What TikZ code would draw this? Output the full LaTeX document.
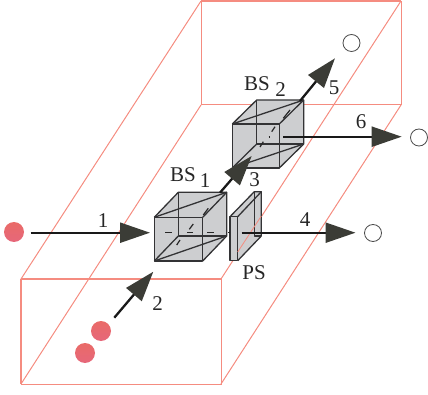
\documentclass[tikz,border=0pt]{standalone}
\usepackage{fontspec}
\setmainfont{Liberation Serif}
\usetikzlibrary{arrows.meta,shadings}
\definecolor{framered}{HTML}{F58C80}
\definecolor{cubegray}{HTML}{CDCED0}
\definecolor{edgegray}{HTML}{333335}
\definecolor{headgray}{HTML}{3B3C36}
\definecolor{ballred}{HTML}{E6677A}
\tikzset{
  frame/.style={draw=framered,line width=1pt},
  frameheavy/.style={draw=framered,line width=1.7pt},
  cubeedge/.style={draw=edgegray,line width=1.3pt,line join=round},
  beam/.style={draw=black!90,line width=2.3pt,-{Triangle[length=30pt,width=20pt,color=headgray]}},
  beamdash/.style={draw=black!85,line width=1.2pt},
  lab/.style={inner sep=0pt,text=black!85,font=\fontsize{21}{21}\selectfont},
  ball/.style={circle,minimum size=20pt,inner sep=0pt,draw=none,top color=ballred!85!orange,bottom color=ballred},
  det/.style={circle,minimum size=17pt,inner sep=0pt,draw=black!70,line width=0.8pt,fill=white}
}
% #1 left, #2 right, #3 top, #4 bottom of front face; #5 #6 offset of the back face
\newcommand{\splitcube}[6]{%
  \fill[cubegray] (#1,#3) -- ++(#5,#6) -- ++(#2-#1,0) -- ++(0,#4-#3) -- (#2,#4) -- (#1,#4) -- cycle;
  \draw[cubeedge] (#1+#5,#3+#6) -- (#1+#5,#4+#6) -- (#2+#5,#4+#6);
  \draw[cubeedge] (#1,#4) -- (#1+#5,#4+#6);
  \draw[cubeedge] (#1,#3) -- (#2+#5,#3+#6);
  \draw[cubeedge] (#1,#4) -- (#2+#5,#4+#6);
  \draw[cubeedge] (#1,#3) rectangle (#2,#4);
  \draw[cubeedge] (#1,#3) -- (#1+#5,#3+#6) -- (#2+#5,#3+#6) -- (#2+#5,#4+#6) -- (#2,#4);
  \draw[cubeedge] (#2,#3) -- (#2+#5,#3+#6);
}
\begin{document}
\begin{tikzpicture}[x=1pt,y=-1pt]
\useasboundingbox (0,0) rectangle (428,395);
% frame corners
\coordinate (bTL) at (201,1);
\coordinate (bTR) at (401,1);
\coordinate (bBL) at (201,105);
\coordinate (bBR) at (401,105);
\coordinate (fTL) at (21,279);
\coordinate (fTR) at (221,279);
\coordinate (fBL) at (21,384);
\coordinate (fBR) at (221,384);
% back frame
\draw[frame] (bBL) -- (bBR) -- (bTR);
\draw[frame] (bTL) -- (bBL);
\draw[frameheavy] (bTL) -- (bTR);
\draw[frame] (fTL) -- (bTL);
\draw[frame] (fBL) -- (bBL);
\draw[frame] (fBR) -- (bBR);
\draw[frame] (fTR) -- (bTR);
% front frame
\draw[frame] (fBL) -- (fBR) -- (fTR);
\draw[frame,line width=1.2pt] (fTL) -- (fBL);
\draw[frameheavy] (fTL) -- (fTR);
% beam anchors
\coordinate (s1) at (30.5,232.7);
\coordinate (t1) at (150,232.7);
\coordinate (s2) at (114.3,317.7);
\coordinate (t2) at (153.3,271.7);
\coordinate (s3) at (220,192.7);
\coordinate (t3) at (251.7,156);
\coordinate (s4) at (241.5,232.7);
\coordinate (t4) at (355.5,232.7);
\coordinate (s5) at (300,101);
\coordinate (t5) at (335,58.3);
\coordinate (s6) at (283.3,136.7);
\coordinate (t6) at (401.7,136.7);
% cubes
\splitcube{154.3}{202.7}{217.3}{261}{24}{-25}
\splitcube{232.3}{279.3}{124}{168}{24.4}{-24}
% polarisation shifter
\fill[cubegray] (230,216.7) -- (254.3,191.7) -- (261.3,191.7) -- (261.3,236) -- (237.7,260.7) -- (230,260.7) -- cycle;
\draw[cubeedge] (254.3,191.7) -- (254.3,236) -- (261.3,236);
\draw[cubeedge] (230,216.7) -- (254.3,191.7) -- (261.3,191.7) -- (261.3,236) -- (237.7,260.7);
\draw[cubeedge] (237.7,216.7) -- (261.3,191.7);
\draw[cubeedge,fill=cubegray] (230,216.7) rectangle (237.7,260.7);
\draw[framered,line width=0.8pt] (237.7,252) -- (261.3,216);
% beams
\draw[beam] (s1) -- (t1);
\draw[beam] (s2) -- (t2);
\draw[beam] (s3) -- (t3);
\draw[beam] (s4) -- (t4);
\draw[beam] (s5) -- (t5);
\draw[beam] (s6) -- (t6);
% beam traces inside the cubes
\draw[beamdash] (165,232.5) -- (172,232.5) (187,232.5) -- (193,232.5) (207,232.5) -- (214,232.5) (228,232.5) -- (230,232.5);
\draw[beamdash] (176.7,245) -- (180,240) (189.3,229.3) -- (193.3,224) (203.3,215) -- (208.3,208.3);
\draw[beamdash] (268.5,137) -- (269.5,137);
\draw[beamdash] (260,147) -- (263.3,141.7) (271.7,131.7) -- (275,126.7) (283.3,118.3) -- (290,110);
% balls
\node[ball] (p1) at (14,232) {};
\node[ball] (p2) at (101,331) {};
\node[ball] (p3) at (85,353) {};
% detectors
\node[det] (d5) at (351.5,43) {};
\node[det] (d6) at (419,137.5) {};
\node[det] (d4) at (373,233) {};
% labels
\node[lab] (l1) at (103,220.5) {1};
\node[lab] (l2) at (157.5,303.5) {2};
\node[lab] (l3) at (254.5,180) {3};
\node[lab] (l4) at (305,219.5) {4};
\node[lab] (l5) at (334,88) {5};
\node[lab] (l6) at (361,122) {6};
\node[lab] (lps) at (254,273) {PS};
\node[lab,anchor=west] (lb1) at (170,175) {BS};
\node[lab] (lb1s) at (205,181) {1};
\node[lab,anchor=west] (lb2) at (244,83.5) {BS};
\node[lab] (lb2s) at (280.5,90) {2};
\end{tikzpicture}
\end{document}
